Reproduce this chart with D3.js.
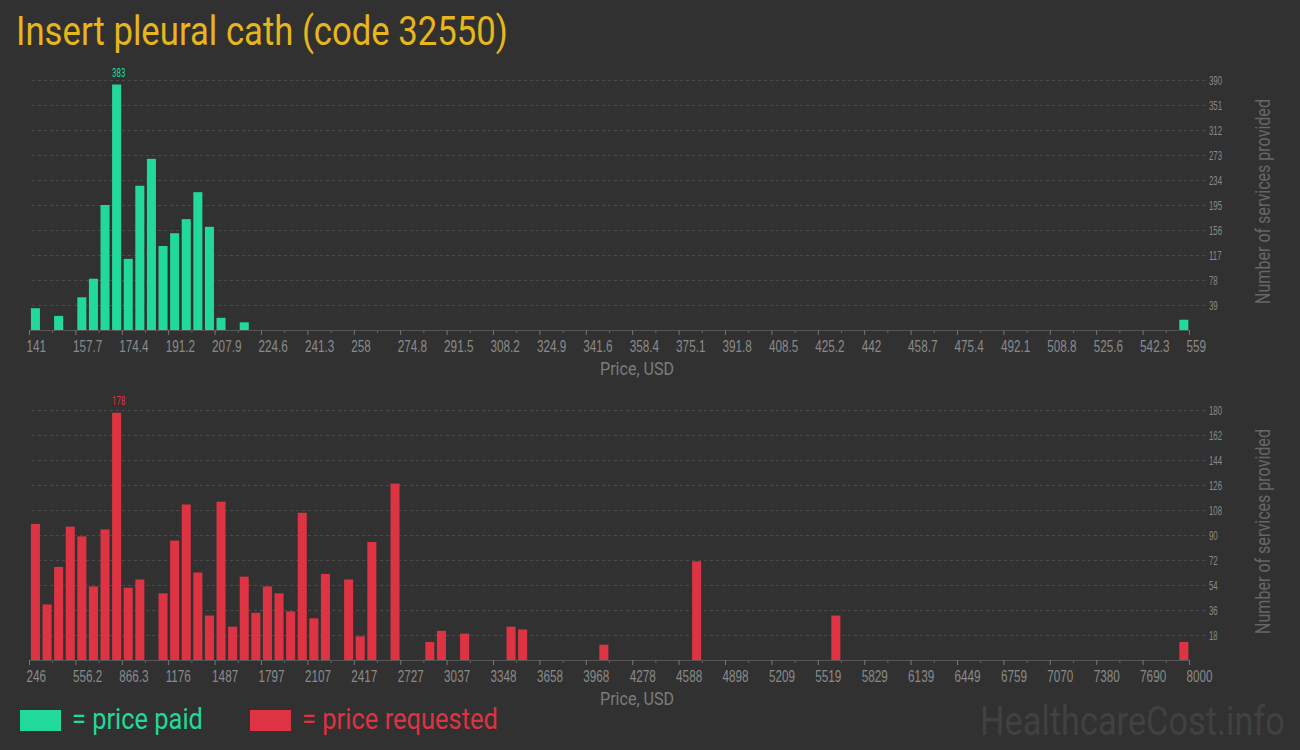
<!DOCTYPE html>
<html>
<head>
<meta charset="utf-8">
<script src="https://cdn.jsdelivr.net/npm/d3@7"></script>
<style>
  html, body { margin: 0; padding: 0; background: #313131; }
  svg { display: block; font-family: Roboto, "Noto Sans", sans-serif; }
</style>
</head>
<body>
<svg id="chart" width="1300" height="750"></svg>
<script>
// ---- data ----
const title = "Insert pleural cath (code 32550)";

const paidTickLabels = ["141","157.7","174.4","191.2","207.9","224.6","241.3","258","274.8","291.5","308.2","324.9","341.6","358.4","375.1","391.8","408.5","425.2","442","458.7","475.4","492.1","508.8","525.6","542.3","559"];
const paidBins   = [0, 2, 4, 5, 6, 7, 8, 9, 10, 11, 12, 13, 14, 15, 16, 18, 99];
const paidCounts = [34, 22, 51, 80, 195, 383, 111, 225, 267, 131, 151, 173, 215, 161, 19, 12, 16];
const paidYTicks = [39, 78, 117, 156, 195, 234, 273, 312, 351, 390];

const reqTickLabels = ["246","556.2","866.3","1176","1487","1797","2107","2417","2727","3037","3348","3658","3968","4278","4588","4898","5209","5519","5829","6139","6449","6759","7070","7380","7690","8000"];
const reqBins   = [0, 1, 2, 3, 4, 5, 6, 7, 8, 9, 11, 12, 13, 14, 15, 16, 17, 18, 19, 20, 21, 22, 23, 24, 25, 27, 28, 29, 31, 34, 35, 37, 41, 42, 49, 57, 69, 99];
const reqCounts = [98, 40, 67, 96, 89, 53, 94, 178, 52, 58, 48, 86, 112, 63, 32, 114, 24, 60, 34, 53, 48, 35, 106, 30, 62, 58, 17, 85, 127, 13, 21, 19, 24, 22, 11, 71, 32, 13];
const reqYTicks = [18, 36, 54, 72, 90, 108, 126, 144, 162, 180];

const binCount = 100;
const legendLabels = ["= price paid", "= price requested"];

// ---- style ----
const GREEN = "#21d99a", RED = "#dd3343", GOLD = "#e7b51c";
const svg = d3.select("#chart");

// condensed text helper: scales the natural text width to a target width
function condensed(parent, str, x, y, size, color, width, anchor) {
  const g = parent.append("g").attr("transform", `translate(${x},${y})`);
  const t = g.append("text").attr("font-size", size).attr("fill", color)
    .attr("text-anchor", anchor || "start").text(str);
  const natural = t.node().getComputedTextLength();
  t.attr("transform", `scale(${width / natural},1)`);
  return g;
}

condensed(svg, title, 16, 44.5, 40, GOLD, 492);

function panel(opts) {
  const { tickLabels, bins, counts, yTicks, yMax, color, top, bottom } = opts;
  const left = 29, right = 1189, gridRight = 1205;
  const g = svg.append("g");

  const x = d3.scaleLinear().domain([0, tickLabels.length - 1]).range([left, right]);
  const xb = d3.scaleBand().domain(d3.range(binCount)).range([left, right])
    .paddingInner(0.22).paddingOuter(0.11).align(0.75);
  const y = d3.scaleLinear().domain([0, yMax]).range([bottom, top]);

  // grid + right axis
  const yAxis = g.append("g")
    .attr("transform", `translate(${gridRight},0)`)
    .call(d3.axisRight(y).tickValues(yTicks).tickSize(-(gridRight - 32)).tickPadding(4));
  yAxis.select(".domain").remove();
  yAxis.selectAll(".tick line")
    .attr("stroke", "#4c4c4c").attr("stroke-dasharray", "3,3");
  const ys = 0.63;
  yAxis.selectAll(".tick text")
    .attr("fill", "#8a8a8a").attr("font-size", 12.5)
    .attr("x", 4 / ys).attr("dy", "0.34em")
    .attr("transform", `scale(${ys},1)`);

  // bars
  g.append("g").selectAll("rect")
    .data(bins.map((b, i) => ({ bin: b, count: counts[i] })))
    .join("rect")
    .attr("x", d => xb(d.bin))
    .attr("width", xb.bandwidth())
    .attr("y", d => y(d.count))
    .attr("height", d => y(0) - y(d.count))
    .attr("fill", color);

  // max label
  const maxIdx = d3.maxIndex(counts);
  const xs = 0.6;
  g.append("text")
    .attr("transform", `translate(${xb(bins[maxIdx])},${y(counts[maxIdx]) - 7.5}) scale(${xs},1)`)
    .attr("fill", color).attr("font-size", 13)
    .text(counts[maxIdx]);

  // minor ticks
  const minor = g.append("g").attr("transform", `translate(0,${bottom})`)
    .call(d3.axisBottom(x).tickValues(d3.range(0.5, tickLabels.length - 1, 1)).tickSize(3).tickFormat(""));
  minor.select(".domain").remove();
  minor.selectAll(".tick line").attr("stroke", "#666");

  // major axis
  const ts = 0.71;
  const xAxis = g.append("g").attr("transform", `translate(0,${bottom})`)
    .call(d3.axisBottom(x).tickValues(d3.range(tickLabels.length)).tickSize(5).tickSizeOuter(0)
      .tickFormat(i => tickLabels[i]));
  xAxis.select(".domain").attr("stroke", "#555");
  xAxis.selectAll(".tick line").attr("stroke", "#777");
  xAxis.selectAll(".tick text")
    .attr("fill", "#8a8a8a").attr("font-size", 16.5)
    .attr("text-anchor", "start")
    .attr("y", 22).attr("dy", null).attr("x", -3 / ts)
    .attr("transform", `scale(${ts},1)`);

  // x title
  condensed(g, "Price, USD", 637, bottom + 45, 19, "#7c7c7c", 74, "middle");

  // y title
  const yt = g.append("g")
    .attr("transform", `translate(1270,${(top + bottom) / 2 - 3.5}) rotate(-90)`);
  condensed(yt, "Number of services provided", 0, 0, 20, "#666", 205, "middle");
}

panel({ tickLabels: paidTickLabels, bins: paidBins, counts: paidCounts, yTicks: paidYTicks, yMax: 390, color: GREEN, top: 80, bottom: 330 });
panel({ tickLabels: reqTickLabels, bins: reqBins, counts: reqCounts, yTicks: reqYTicks, yMax: 180, color: RED, top: 410, bottom: 660 });

// legend
const legend = svg.append("g");
const legendItems = [
  { label: legendLabels[0], color: GREEN, x: 20, len: 131 },
  { label: legendLabels[1], color: RED, x: 250, len: 196 }
];
legendItems.forEach(it => {
  legend.append("rect").attr("x", it.x).attr("y", 710).attr("width", 41).attr("height", 21).attr("fill", it.color);
  condensed(legend, it.label, it.x + 52, 729, 29, it.color, it.len);
});

// watermark
condensed(svg, "HealthcareCost.info", 980, 735, 41, "#414141", 305);
</script>
</body>
</html>
